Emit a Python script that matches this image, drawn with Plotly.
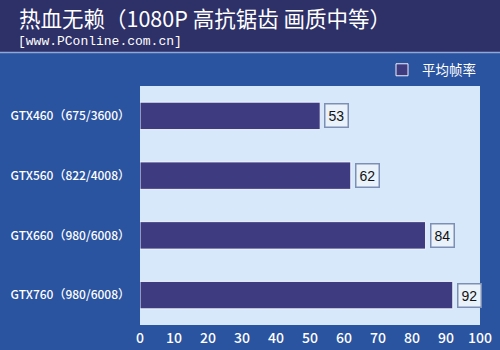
import plotly.graph_objects as go

categories = ["GTX460（675/3600）", "GTX560（822/4008）", "GTX660（980/6008）", "GTX760（980/6008）"]
values = [53, 62, 84, 92]
series_name = "平均帧率"
x_ticks = [0, 10, 20, 30, 40, 50, 60, 70, 80, 90, 100]

W, H = 500, 350
L, R, T, B = 140, 20, 86, 25
pw, ph = W - L - R, H - T - B

def px_x(x):
    return (x - L) / pw

def px_y(y):
    return (H - B - y) / ph

fig = go.Figure()
fig.add_trace(go.Bar(
    y=categories, x=values, orientation="h", name=series_name,
    marker=dict(color="#3f3b80", line=dict(color="#eef3fb", width=1)),
    width=0.46, showlegend=True,
))

for c, v in zip(categories, values):
    fig.add_annotation(
        x=v, y=c, xref="x", yref="y", text=str(v), showarrow=False,
        xanchor="left", xshift=4,
        font=dict(family="Liberation Sans, Arial", size=14, color="#111111"),
        bgcolor="#e9f1fb", bordercolor="#7d8fb5", borderwidth=1.5, borderpad=3,
    )

# title band
fig.add_shape(type="rect", xref="paper", yref="paper",
              x0=px_x(0), x1=px_x(W), y0=px_y(52), y1=px_y(0),
              fillcolor="#2e3068", line=dict(width=0), layer="below")
fig.add_shape(type="line", xref="paper", yref="paper",
              x0=px_x(0), x1=px_x(W), y0=px_y(52.5), y1=px_y(52.5),
              line=dict(color="#8fa8d8", width=1.5), layer="below")

fig.add_annotation(x=px_x(17), y=px_y(18), xref="paper", yref="paper",
                   text="热血无赖（1080P 高抗锯齿 画质中等）", showarrow=False,
                   xanchor="left", yanchor="middle",
                   font=dict(family="Noto Sans CJK SC", size=21.5, color="white"))
fig.add_annotation(x=px_x(16), y=px_y(41), xref="paper", yref="paper",
                   text="[www.PConline.com.cn]", showarrow=False,
                   xanchor="left", yanchor="middle",
                   font=dict(family="Liberation Mono", size=13, color="white"))

fig.update_layout(
    width=W, height=H,
    margin=dict(l=L, r=R, t=T, b=B, autoexpand=False),
    paper_bgcolor="#2a53a0",
    plot_bgcolor="#d7e8fb",
    showlegend=True,
    legend=dict(x=px_x(382), y=px_y(70), xanchor="left", yanchor="middle",
                font=dict(family="Noto Sans CJK SC", size=13.5, color="white"),
                bgcolor="rgba(0,0,0,0)", itemwidth=30),
    xaxis=dict(range=[0, 100], tickvals=x_ticks, showgrid=False, zeroline=False,
               tickfont=dict(family="Noto Sans CJK SC", size=14, color="white", weight=500),
               showline=False, ticks="", ticklabelstandoff=3, automargin=False),
    yaxis=dict(autorange="reversed", showgrid=False, zeroline=False,
               tickfont=dict(family="Noto Sans CJK SC", size=12, color="white", weight=500),
               ticks="", ticklabelstandoff=9, automargin=False),
)

fig.write_html("out.html")
